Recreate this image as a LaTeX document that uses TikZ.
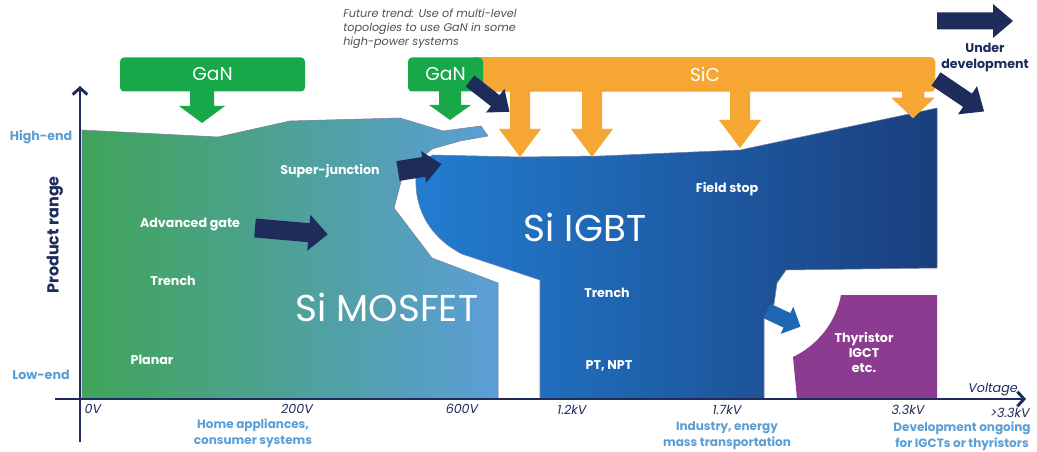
\documentclass[tikz,border=0pt]{standalone}
\usepackage{fontspec}
\setmainfont{Poppins}
\usetikzlibrary{arrows.meta}

\definecolor{navy}{RGB}{30,44,92}
\definecolor{skyblue}{RGB}{90,158,214}
\definecolor{ganGreen}{RGB}{24,168,74}
\definecolor{sicOrange}{RGB}{246,166,50}
\definecolor{mosGreen}{RGB}{64,164,88}
\definecolor{mosBlue}{RGB}{92,158,216}
\definecolor{igbtLight}{RGB}{34,126,210}
\definecolor{igbtMid}{RGB}{32,110,190}
\definecolor{igbtDark}{RGB}{26,62,125}
\definecolor{thyPurple}{RGB}{140,60,144}
\definecolor{noteGray}{RGB}{80,80,80}

% block arrow: style, start, angle, length, shaft width, head width, head length
\newcommand\fatarrow[7]{%
  \fill[#1,shift={(#2)},rotate=#3] (0,-#5/2) -- ({#4-#7},-#5/2) -- ({#4-#7},-#6/2)
    -- (#4,0) -- ({#4-#7},#6/2) -- ({#4-#7},#5/2) -- (0,#5/2) -- cycle;}

\begin{document}
\begin{tikzpicture}[x=0.75pt,y=-0.75pt,
    lbl/.style={text=white,font=\bfseries\fontsize{9.5}{11.25}\selectfont},
    devname/.style={text=white,font=\fontsize{28}{30}\selectfont},
    tick/.style={text=navy,font=\itshape\fontsize{9.5}{11}\selectfont},
    market/.style={text=skyblue,font=\bfseries\fontsize{9}{12}\selectfont,align=center},
    endlbl/.style={text=skyblue,font=\bfseries\fontsize{9.5}{11}\selectfont},
    matbox/.style={rounded corners=3pt,inner sep=0pt,text=white,minimum height=25.5pt,
        font=\fontsize{14}{16}\selectfont},
    region/.style={draw=navy!60,line width=0.4pt},
    axis/.style={navy,line width=2.2pt,-{Straight Barb[length=5pt,width=11pt]}}
]
    \useasboundingbox[fill=white] (0,0) rectangle (1037,452);

    % device regions
    \shadedraw[region,left color=mosGreen,right color=mosBlue]
        (82,130) -- (218,137) -- (290,121) -- (400,118) -- (443,131) -- (481,126)
        -- (488,136) -- (460,141) -- (432,149) -- (403,174) -- (394,208) -- (432,258)
        -- (498,283) -- (498,399) -- (82,399) -- cycle;
    \shadedraw[region,left color=igbtLight,middle color=igbtMid,right color=igbtDark]
        (418,162) -- (433,155) -- (520,157) -- (600,156) -- (740,150) -- (937,108)
        -- (937,268) -- (786,270) -- (777,283) -- (774,304) -- (764,318) -- (764,399)
        -- (540,399) -- (540,280) -- (462,254) .. controls (425,235) and (410,200) .. (418,162) -- cycle;
    \fatarrow{igbtMid!85!igbtDark}{767,311}{-25}{37}{16}{30}{15}
    \fill[thyPurple] (797,399) -- (793,357) .. controls (818,345) and (836,322) .. (841,295)
        -- (937,295) -- (937,399) -- cycle;

    % material bars
    \foreach \x/\len in {520/69,592/69,740/60}
        \fatarrow{sicOrange}{\x,88}{-90}{\len}{20}{42}{28}
    \fatarrow{sicOrange}{913,88}{-90}{30}{22}{42}{20}
    \node[matbox,fill=sicOrange,minimum width=348.75pt] (sic) at (702.5,74.5) {};
    \node[matbox] (siclbl) at (705,74.5) {SiC};
    \fatarrow{ganGreen}{202,88}{-90}{35}{24}{46}{17}
    \fatarrow{ganGreen}{450,88}{-90}{32}{22}{42}{15}
    \node[matbox,fill=ganGreen,minimum width=138.75pt] (gan) at (212.5,74.5) {GaN};
    \node[matbox,fill=ganGreen,minimum width=56.25pt] (ganhv) at (445.5,74.5) {GaN};

    % trend arrows
    \fatarrow{navy}{937,21}{0}{76}{17}{34}{20}
    \fatarrow{navy}{936,79}{-34}{58}{16}{34}{20}
    \fatarrow{navy}{470,81}{-38}{50}{14}{30}{18}
    \fatarrow{navy}{398,171}{9}{44}{20}{32}{18}
    \fatarrow{navy}{255,228}{-5}{73}{19}{36}{19}

    % axes
    \coordinate (yfoot) at (80,442);
    \coordinate (ytop) at (80,86);
    \coordinate (xfoot) at (55,399);
    \coordinate (xend) at (1026,399);
    \draw[axis] (yfoot) -- (ytop);
    \draw[axis] (xfoot) -- (xend);

    % labels inside the regions
    \node[lbl] (sj) at (330,171) {Super-junction};
    \node[lbl] (advgate) at (190,225) {Advanced gate};
    \node[lbl] (mtrench) at (173,281) {Trench};
    \node[lbl] (planar) at (152,360) {Planar};
    \node[devname] (mosfet) at (387,307) {Si MOSFET};
    \node[devname] (igbt) at (585,227) {Si IGBT};
    \node[lbl] (fieldstop) at (727,189) {Field stop};
    \node[lbl] (itrench) at (607,293) {Trench};
    \node[lbl] (ptnpt) at (609,366) {PT, NPT};
    \node[lbl,align=center] (thy) at (864,352) {Thyristor\\IGCT\\etc.};

    % axis labels
    \node[endlbl] (high) at (41,137) {High-end};
    \node[endlbl] (low) at (41,375) {Low-end};
    \node[rotate=90,text=navy,font=\bfseries\fontsize{12}{14}\selectfont] (prange) at (55,235) {Product range};
    \node[tick] (volt) at (993,390) {Voltage};
    \node[tick] (v0) at (93,409) {0V};
    \node[tick] (v200) at (297,409) {200V};
    \node[tick] (v600) at (462,409) {600V};
    \node[tick] (v1k2) at (572,410) {1.2kV};
    \node[tick] (v1k7) at (727,410) {1.7kV};
    \node[tick] (v3k3) at (908,410) {3.3kV};
    \node[tick] (vhi) at (1010,413) {>3.3kV};
    \node[market] (home) at (253,433) {Home appliances,\\consumer systems};
    \node[market] (industry) at (727,436) {Industry, energy\\mass transportation};
    \node[market] (devnote) at (962,436) {Development ongoing\\for IGCTs or thyristors};

    % notes
    \node[anchor=north west,inner sep=0pt,align=left,text=noteGray,font=\itshape\fontsize{8.4}{10.4}\selectfont] (future) at (343,9)
        {Future trend: Use of multi-level\\topologies to use GaN in some\\high-power systems};
    \node[text=navy,font=\bfseries\fontsize{9.5}{12}\selectfont,align=center] (underdev) at (985,58) {Under\\development};
\end{tikzpicture}
\end{document}
